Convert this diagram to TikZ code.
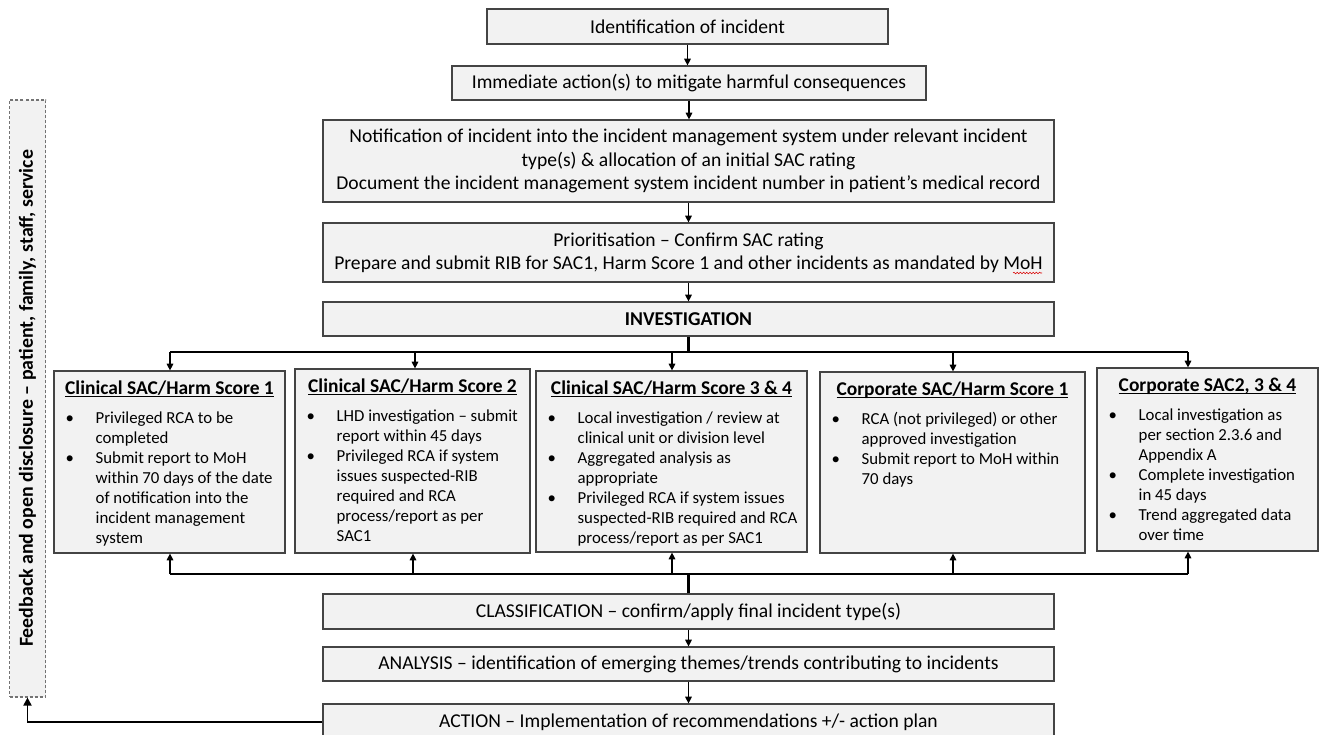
\documentclass[tikz,border=0pt]{standalone}
\usepackage{fontspec}
\setmainfont{Carlito}
\usetikzlibrary{arrows.meta,calc,decorations.pathmorphing}
\definecolor{boxfill}{HTML}{F2F2F2}
\definecolor{boxline}{HTML}{444444}
\newcommand\bl{\hspace*{9pt}\makebox[22.5pt][l]{•}}
\newcommand\cl{\hspace*{31.5pt}}
\newcommand\headul[1]{\setbox0\hbox{#1}\rlap{\rule[-2.2pt]{\wd0}{0.8pt}}\box0}
\begin{document}
\begin{tikzpicture}[x=0.75pt,y=-0.75pt,
  box/.style={draw=boxline, fill=boxfill, line width=0.9pt, inner sep=0pt,
    font=\fontsize{14.7}{17.4}\selectfont, align=center},
  sbox/.style={draw=boxline, fill=boxfill, line width=0.9pt, inner sep=0pt},
  head/.style={font=\fontsize{14.6}{16}\selectfont\bfseries, anchor=base, inner sep=0pt},
  body/.style={font=\fontsize{12.6}{15}\selectfont, align=left, anchor=north west, inner sep=0pt},
  conn/.style={line width=0.8pt, -{Triangle[length=5pt,width=5pt]}},
  bus/.style={line width=1.5pt},
  trunk/.style={line width=2.4pt},
  fbarrow/.style={line width=1.3pt, -{Triangle[length=6pt,width=6pt]}},
  fbbox/.style={draw=black!55, fill=boxfill, line width=0.8pt, dash pattern=on 2.25pt off 1.5pt, inner sep=0pt},
  squiggle/.style={draw=red!85!black, line width=0.4pt, decorate, decoration={snake, amplitude=0.6pt, segment length=2.4pt}}
]
\useasboundingbox (0,0) rectangle (1324,735);

% top chain
\node[box, minimum width=300.75pt, minimum height=26.25pt] (n1) at (687.5,26.5) {Identification of incident};
\node[box, minimum width=355.5pt, minimum height=25.5pt] (n2) at (689,83) {Immediate action(s) to mitigate harmful consequences};
\node[box, minimum width=548.25pt, minimum height=61.5pt] (n3) at (688.5,161) {Notification of incident into the incident management system under relevant incident\\type(s) \& allocation of an initial SAC rating\\Document the incident management system incident number in patient’s medical record};
\node[box, minimum width=548.25pt, minimum height=44.25pt] (n4) at (688.5,252.5) {Prioritisation – Confirm SAC rating\\Prepare and submit RIB for SAC1, Harm Score 1 and other incidents as mandated by MoH};
\node[box, minimum width=548.25pt, minimum height=25.5pt] (n5) at (688.5,319) {\textbf{INVESTIGATION}};
\path[squiggle] (1013,273) -- (1042,273);

\draw[conn] (n1.south) -- (n1.south |- n2.north);
\draw[conn] (n2.south) -- (n2.south |- n3.north);
\draw[conn] (n3.south) -- (n4.north);
\draw[conn] (n4.south) -- (n5.north);

% five category boxes
\node[sbox, minimum width=173.25pt, minimum height=136.5pt] (b1) at (169.5,462) {};
\node[sbox, minimum width=176.25pt, minimum height=138pt] (b2) at (412.5,461) {};
\node[sbox, minimum width=203.25pt, minimum height=135.75pt] (b3) at (671.5,461.5) {};
\node[sbox, minimum width=198.75pt, minimum height=135.75pt] (b4) at (952.5,462.5) {};
\node[sbox, minimum width=165.75pt, minimum height=137.25pt] (b5) at (1207.5,459.5) {};

\node[head] (h1) at ($(b1.north)+(0,24)$) {\headul{Clinical SAC/Harm Score 1}};
\node[head] (h2) at ($(b2.north)+(0,24)$) {\headul{Clinical SAC/Harm Score 2}};
\node[head] (h3) at ($(b3.north)+(0,24)$) {\headul{Clinical SAC/Harm Score 3 \& 4}};
\node[head] (h4) at ($(b4.north)+(0,24)$) {\headul{Corporate SAC/Harm Score 1}};
\node[head] (h5) at ($(b5.north)+(0,24)$) {\headul{Corporate SAC2, 3 \& 4}};

\node[body] (t1) at ($(b1.north west)+(0,41)$) {\bl Privileged RCA to be\\\cl completed\\\bl Submit report to MoH\\\cl within 70 days of the date\\\cl of notification into the\\\cl incident management\\\cl system};
\node[body] (t2) at ($(b2.north west)+(0,41)$) {\bl LHD investigation – submit\\\cl report within 45 days\\\bl Privileged RCA if system\\\cl issues suspected-RIB\\\cl required and RCA\\\cl process/report as per\\\cl SAC1};
\node[body] (t3) at ($(b3.north west)+(0,41)$) {\bl Local investigation / review at\\\cl clinical unit or division level\\\bl Aggregated analysis as\\\cl appropriate\\\bl Privileged RCA if system issues\\\cl suspected-RIB required and RCA\\\cl process/report as per SAC1};
\node[body] (t4) at ($(b4.north west)+(0,41)$) {\bl RCA (not privileged) or other\\\cl approved investigation\\\bl Submit report to MoH within\\\cl 70 days};
\node[body] (t5) at ($(b5.north west)+(0,41)$) {\bl Local investigation as\\\cl per section 2.3.6 and\\\cl Appendix A\\\bl Complete investigation\\\cl in 45 days\\\bl Trend aggregated data\\\cl over time};

% top distribution bus
\coordinate (tb) at (688.5,352);
\coordinate (d1) at (170,352);
\coordinate (d2) at (415,352);
\coordinate (d3) at (672,352);
\coordinate (d4) at (953,352);
\coordinate (d5) at (1188,352);
\draw[trunk] (n5.south) -- (tb);
\draw[bus] (d1) -- (d5);
\draw[conn] (d1) -- (d1 |- b1.north);
\draw[conn] (d2) -- (d2 |- b2.north);
\draw[conn] (d3) -- (d3 |- b3.north);
\draw[conn] (d4) -- (d4 |- b4.north);
\draw[conn] (d5) -- (d5 |- b5.north);

% bottom chain
\node[box, minimum width=548.25pt, minimum height=26.25pt] (c1) at (688.5,611.5) {CLASSIFICATION – confirm/apply final incident type(s)};
\node[box, minimum width=548.25pt, minimum height=25.5pt] (c2) at (688.5,664) {ANALYSIS – identification of emerging themes/trends contributing to incidents};
\node[box, minimum width=548.25pt, minimum height=27pt] (c3) at (688.5,722) {ACTION – Implementation of recommendations +/- action plan};

\coordinate (bb) at (688.5,574);
\coordinate (u1) at (170,574);
\coordinate (u2) at (413,574);
\coordinate (u3) at (672,574);
\coordinate (u4) at (953,574);
\coordinate (u5) at (1188,574);
\draw[trunk] (c1.north) -- (bb);
\draw[bus] (u1) -- (u5);
\draw[conn] (u1) -- (u1 |- b1.south);
\draw[conn] (u2) -- (u2 |- b2.south);
\draw[conn] (u3) -- (u3 |- b3.south);
\draw[conn] (u4) -- (u4 |- b4.south);
\draw[conn] (u5) -- (u5 |- b5.south);

\draw[conn] (c1.south) -- (c2.north);
\draw[conn] (c2.south) -- (c3.north);

% feedback
\node[fbbox, minimum width=27pt, minimum height=447.75pt] (fb) at (27.5,398.5) {};
\node[rotate=90, font=\fontsize{14.9}{16}\selectfont\bfseries, inner sep=0pt] (fbt) at (fb.center) {Feedback and open disclosure – patient, family, staff, service};
\draw[fbarrow] (c3.west) -- (c3.west -| fb.south) -- (fb.south);
\end{tikzpicture}
\end{document}
